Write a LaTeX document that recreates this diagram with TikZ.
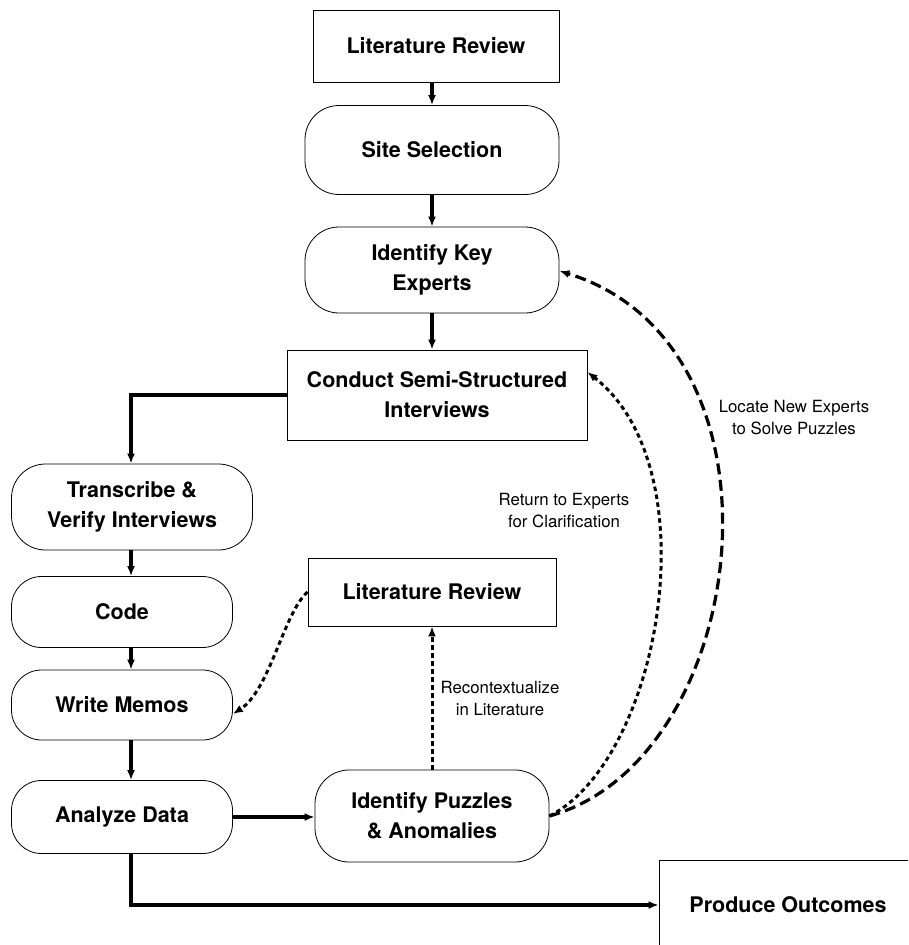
\documentclass[tikz,border=0pt]{standalone}
\usepackage{fontspec}
\setmainfont{TeX Gyre Heros}
\usetikzlibrary{arrows.meta}
\tikzset{
  box/.style={draw, line width=0.8pt, align=center, font=\fontsize{21.5}{30}\selectfont\bfseries, inner sep=0pt},
  rbox/.style={box, rounded corners=34pt},
  arr/.style={line width=3.2pt, -{Latex[length=10pt,width=8pt]}},
  dotarr/.style={line width=3pt, dash pattern=on 4.5pt off 3.5pt, -{Latex[length=10pt,width=8pt]}},
  dasharr/.style={line width=3.2pt, dash pattern=on 11pt off 5.5pt, -{Latex[length=10pt,width=8pt]}},
  lbl/.style={align=center, font=\fontsize{16.8}{22}\selectfont}
}
\begin{document}
\begin{tikzpicture}[x=1pt,y=-1pt]
\useasboundingbox (0,0) rectangle (908,945);
\clip (0,0) rectangle (908,945);
\fill[white] (0,0) rectangle (908,945);
% nodes
\node[box, minimum width=246pt, minimum height=72pt] (lit1) at (436,46) {Literature Review};
\node[rbox, minimum width=254pt, minimum height=89pt] (site) at (432,150) {Site Selection};
\node[rbox, minimum width=254pt, minimum height=86pt] (key) at (432,270) {Identify Key\\Experts};
\node[box, minimum width=300pt, minimum height=90pt] (conduct) at (437,395) {Conduct Semi-Structured\\Interviews};
\node[rbox, minimum width=241pt, minimum height=86pt] (trans) at (132,507) {Transcribe \&\\Verify Interviews};
\node[rbox, minimum width=221pt, minimum height=71pt, rounded corners=30pt] (code) at (122,612) {Code};
\node[rbox, minimum width=221pt, minimum height=70pt, rounded corners=30pt] (memo) at (122,705) {Write Memos};
\node[rbox, minimum width=221pt, minimum height=73pt, rounded corners=30pt] (anal) at (122,817) {Analyze Data};
\node[box, minimum width=248pt, minimum height=68pt] (lit2) at (432,592) {Literature Review};
\node[rbox, minimum width=234pt, minimum height=92pt] (puz) at (432,816) {Identify Puzzles\\\& Anomalies};
\node[box, minimum width=258pt, minimum height=90pt] (prod) at (788,905) {Produce Outcomes};
% coordinate for the left column arrows
\coordinate (cx) at (131,0);
% solid arrows
\draw[arr] (lit1.south -| site.north) -- (site.north);
\draw[arr] (site.south) -- (key.north);
\draw[arr] (key.south) -- (key.south |- conduct.north);
\draw[arr] (conduct.west) -| (cx |- trans.north);
\draw[arr] (cx |- trans.south) -- (cx |- code.north);
\draw[arr] (cx |- code.south) -- (cx |- memo.north);
\draw[arr] (cx |- memo.south) -- (cx |- anal.north);
\draw[arr] (anal.east) -- (anal.east -| puz.west);
\draw[arr] (cx |- anal.south) |- (prod.west);
% feedback arrows
\draw[dotarr] (puz.north) -- (lit2.south);
\node[lbl] (lrec) at (500,698) {Recontextualize\\in Literature};
\draw[dotarr] (lit2.west) .. controls (284,612) and (270,690) .. (memo.east |- 0,714);
\draw[dotarr] (puz.east) .. controls (660,760) and (712,470) .. (conduct.east |- 0,372);
\node[lbl] (lret) at (564,511) {Return to Experts\\for Clarification};
\draw[dasharr] (puz.east) .. controls (752,760) and (800,345) .. (key.east |- 0,271);
\node[lbl] (lloc) at (794,418) {Locate New Experts\\to Solve Puzzles};
\end{tikzpicture}
\end{document}
